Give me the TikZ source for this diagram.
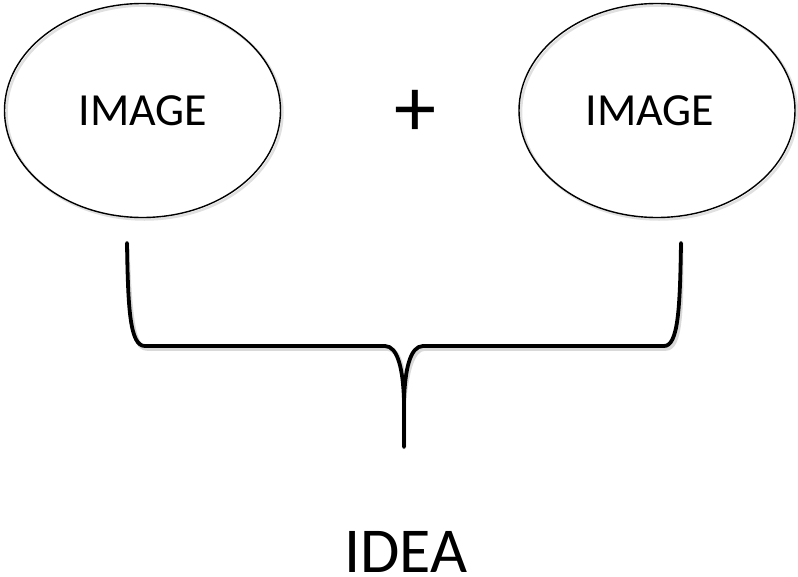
\documentclass[tikz,border=0pt]{standalone}
\usepackage{fontspec}
\setmainfont{Carlito}
\usetikzlibrary{shapes.geometric}
\begin{document}
\begin{tikzpicture}[x=1pt,y=-1pt,
  bubble/.style={ellipse,draw=black,line width=1.4pt,minimum width=276pt,minimum height=214pt,inner sep=0pt},
  bubbleshadow/.style={ellipse,draw=black!12,line width=2.5pt,minimum width=276pt,minimum height=214pt,inner sep=0pt},
  bubbletext/.style={font=\fontsize{46}{52}\selectfont},
  bracestroke/.style={line width=3.8pt,line cap=round,line join=round},
  braceshadow/.style={line width=4.5pt,draw=black!15,line cap=round,line join=round}]
\useasboundingbox (0,0) rectangle (798,576);

% soft shadows under the two ellipses
\node[bubbleshadow] at (144.5,112.5) {};
\node[bubbleshadow] at (659,112.5) {};

% the two ellipses with their labels
\node[bubble] (imgL) at (142.5,110.5) {};
\node[bubbletext] at (143,111) {IMAGE};
\node[bubble] (imgR) at (657,110.5) {};
\node[bubbletext] at (650,111) {IMAGE};

% plus sign between them
\node[font=\fontsize{84}{90}\selectfont] (plus) at (415,113) {+};

% ends and tip of the brace
\coordinate (legL) at (127,243);
\coordinate (legR) at (681,243);
\coordinate (tip) at (404,447);
\coordinate (mid) at (404,400);

% brace shadow
\draw[braceshadow,shift={(2pt,-2.5pt)}]
  (legL) .. controls (128,310) and (130,346) .. (145,346) -- (385,346)
  .. controls (398,346) and (403,370) .. (mid) -- (tip);
\draw[braceshadow,shift={(2pt,-2.5pt)}]
  (mid) .. controls (405,370) and (410,346) .. (423,346) -- (664,346)
  .. controls (678,346) and (680,310) .. (legR);

% brace
\draw[bracestroke]
  (legL) .. controls (128,310) and (130,346) .. (145,346) -- (385,346)
  .. controls (398,346) and (403,370) .. (mid) -- (tip);
\draw[bracestroke]
  (mid) .. controls (405,370) and (410,346) .. (423,346) -- (664,346)
  .. controls (678,346) and (680,310) .. (legR);

% result label
\node[font=\fontsize{64}{70}\selectfont,inner sep=0pt,anchor=base] (idea) at (406,572) {IDEA};
\end{tikzpicture}
\end{document}
